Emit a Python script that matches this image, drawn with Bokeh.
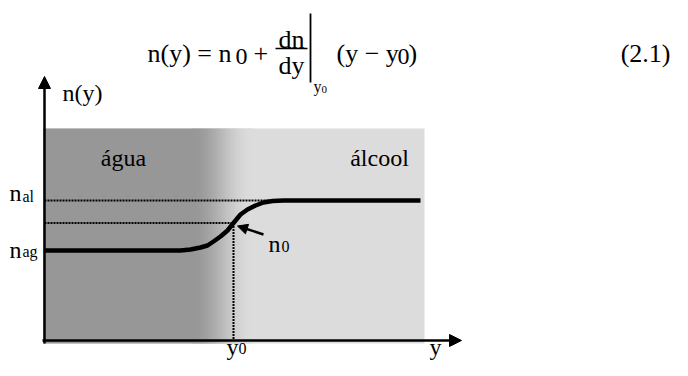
from bokeh.plotting import figure
from bokeh.models import Range1d, Arrow, NormalHead
from bokeh.core.properties import value
from bokeh.embed import file_html
from bokeh.resources import INLINE

# ---- diagram values (in diagram units) ----
region_labels = ["água", "álcool"]
n_ag = 250.0      # level of water index
n_0 = 222.5       # level at interface
n_al = 200.0      # level of alcohol index
y_0 = 233.0       # interface position
axis_origin = [44.0, 340.0]
axis_ends = [461.0, 76.0]
box_x = [43.0, 424.0]
box_n = [128.0, 343.0]
grad_x = [192.0, 252.0]
dark_gray = (0x97, 0x97, 0x97)
light_gray = (0xDC, 0xDC, 0xDC)
curve_x = [44, 180, 190, 200, 207, 213, 220, 227, 233, 240, 247, 255, 263, 272, 283, 420]
curve_n = [250, 250, 249, 247, 245, 241, 236, 230, 222.5, 214, 209, 205, 202, 200.5, 200, 200]
nal_dot_end = 300.0
eq_number = "(2.1)"

FONT = value("Liberation Serif")

p = figure(width=672, height=360, x_range=Range1d(0, 672), y_range=Range1d(360, 0),
           output_backend="svg", toolbar_location=None, min_border=0,
           x_axis_type=None, y_axis_type=None)
p.grid.visible = False
p.outline_line_color = None
p.background_fill_color = "white"
p.border_fill_color = "white"

# background regions
p.quad(left=[box_x[0]], right=[box_x[1]], top=[box_n[0]], bottom=[box_n[1]],
       fill_color="#%02x%02x%02x" % light_gray, line_color=None)
p.quad(left=[box_x[0]], right=[grad_x[0] + 0.5], top=[box_n[0]], bottom=[box_n[1]],
       fill_color="#%02x%02x%02x" % dark_gray, line_color=None)
steps = int(grad_x[1] - grad_x[0])
gl, gr, gc = [], [], []
for i in range(steps):
    t = (i + 0.5) / steps
    s = t * t * (3 - 2 * t)
    c = tuple(int(round(d + (l - d) * s)) for d, l in zip(dark_gray, light_gray))
    gl.append(grad_x[0] + i)
    gr.append(grad_x[0] + i + 1.5)
    gc.append("#%02x%02x%02x" % c)
p.quad(left=gl, right=gr, top=[box_n[0]] * steps, bottom=[box_n[1]] * steps,
       fill_color=gc, line_color=None)

# dotted guide lines
p.line([axis_origin[0], nal_dot_end], [n_al, n_al], line_color="black", line_width=2, line_dash="2 1")
p.line([axis_origin[0], y_0], [n_0, n_0], line_color="black", line_width=2, line_dash="2 1")
p.line([y_0, y_0], [n_0, axis_origin[1]], line_color="black", line_width=2, line_dash="2 1")

# the profile curve
p.line(curve_x, curve_n, line_color="black", line_width=4.5, line_join="round")

# axes with arrows
p.add_layout(Arrow(end=NormalHead(size=12, fill_color="black", line_color="black", line_width=1),
                   x_start=axis_origin[0], y_start=box_n[1], x_end=axis_origin[0], y_end=axis_ends[1],
                   line_width=2.5, line_color="black"))
p.add_layout(Arrow(end=NormalHead(size=12, fill_color="black", line_color="black", line_width=1),
                   x_start=axis_origin[0] - 2, y_start=axis_origin[1], x_end=axis_ends[0], y_end=axis_origin[1],
                   line_width=2.5, line_color="black"))

# n0 pointer arrow
p.add_layout(Arrow(end=NormalHead(size=10, fill_color="black", line_color="black", line_width=1),
                   x_start=263, y_start=234, x_end=y_0 + 4, y_end=n_0 + 3,
                   line_width=2.5, line_color="black"))

def txt(x, y, s, size, align="left", baseline="alphabetic"):
    p.text(x=[x], y=[y], text=[s], text_font=FONT, text_font_size=size,
           text_align=align, text_baseline=baseline, text_color="black")

# labels
txt(62, 92, "n(y)", "24px")
txt(123, 157, region_labels[0], "24px", align="center")
txt(379, 157, region_labels[1], "24px", align="center")
txt(9, 192, "n", "24px")
txt(22, 196, "al", "16px")
txt(9, 249, "n", "24px")
txt(22, 251, "ag", "16px")
txt(268, 243, "n", "24px")
txt(281, 246, "0", "16px")
txt(226, 346, "y", "24px")
txt(238, 348, "0", "16px")
txt(429, 346, "y", "24px")

# equation
txt(147, 53, "n(y) = n", "26px")
txt(235, 56, "0", "24px")
txt(253, 53, "+", "26px")
txt(291, 39, "dn", "26px", align="center")
p.line([275, 307], [48, 48], line_color="black", line_width=1.5)
txt(291, 65, "dy", "26px", align="center")
p.line([310, 310], [13, 82], line_color="black", line_width=1.8)
txt(313, 86, "y", "16px")
txt(321, 89, "0", "11px")
txt(336, 53, "(y \u2212 y", "26px")
txt(397, 56, "0", "24px")
txt(408, 53, ")", "26px")
txt(670, 53, eq_number, "26px", align="right")

open("out.html", "w").write(file_html(p, INLINE))
